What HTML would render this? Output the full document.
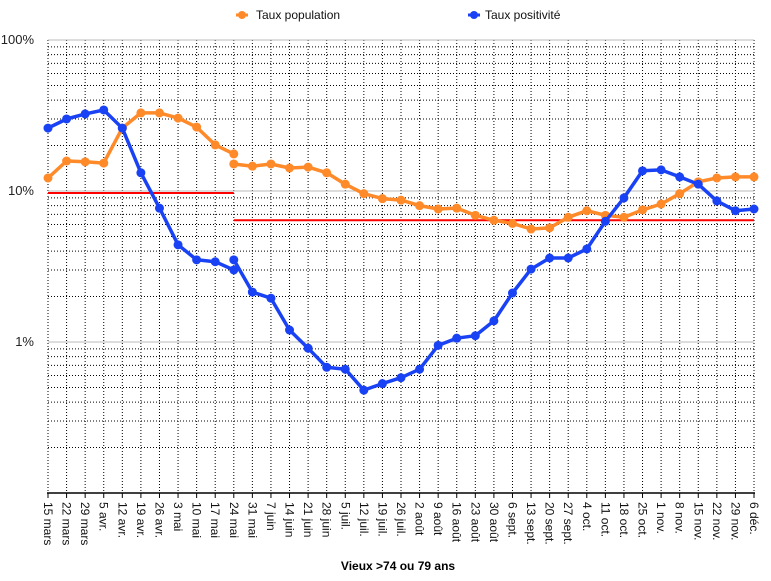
<!DOCTYPE html>
<html><head><meta charset="utf-8"><style>
body{margin:0;background:#fff;}
svg{display:block;font-family:"Liberation Sans",Arial,sans-serif;}
</style></head><body>
<svg id="chart" width="771" height="581" viewBox="0 0 771 581">
<g id="grid"></g>
<g id="axes"></g>
<g id="series"></g>
<g>
  <g>
    <line x1="236" y1="15" x2="248" y2="15" stroke="#ff8a2a" stroke-width="3"/>
    <circle cx="242" cy="15" r="4" fill="#ff8a2a"/>
    <text x="256" y="19" font-size="12" fill="#111">Taux population</text>
  </g>
  <g>
    <line x1="468" y1="15" x2="480" y2="15" stroke="#1a42f5" stroke-width="3"/>
    <circle cx="474" cy="15" r="4" fill="#1a42f5"/>
    <text x="485" y="19" font-size="12" fill="#111">Taux positivité</text>
  </g>
</g>
<text x="398" y="570" font-size="12" font-weight="bold" text-anchor="middle">Vieux &gt;74 ou 79 ans</text>
</svg>
<script>
const categories = ["15 mars","22 mars","29 mars","5 avr.","12 avr.","19 avr.","26 avr.","3 mai","10 mai","17 mai","24 mai","31 mai","7 juin","14 juin","21 juin","28 juin","5 juil.","12 juil.","19 juil.","26 juil.","2 août","9 août","16 août","23 août","30 août","6 sept.","13 sept.","20 sept.","27 sept.","4 oct.","11 oct.","18 oct.","25 oct.","1 nov.","8 nov.","15 nov.","22 nov.","29 nov.","6 déc."];
// segment 1: 15 mars .. 24 mai (indices 0..10); segment 2: 24 mai .. 6 déc (indices 10..38)
const populationSeg1 = [12.2,15.8,15.6,15.3,26.1,32.9,32.9,30.4,26.5,20.2,17.6];
const populationSeg2 = [15.1,14.6,15.1,14.2,14.4,13.2,11.1,9.6,8.9,8.7,8.0,7.6,7.7,6.9,6.4,6.1,5.6,5.7,6.7,7.4,6.9,6.7,7.5,8.2,9.6,11.5,12.2,12.4,12.4];
const positiviteSeg1 = [26.1,30.0,32.4,34.4,26.1,13.2,7.7,4.4,3.5,3.4,3.0];
const positiviteSeg2 = [3.5,2.14,1.95,1.20,0.91,0.68,0.66,0.48,0.53,0.58,0.66,0.95,1.06,1.10,1.38,2.11,3.04,3.6,3.6,4.13,6.3,9.0,13.6,13.8,12.4,11.1,8.6,7.4,7.6];
const thresholdValues = [9.7, 6.4];
const thresholdRanges = [[0,10],[10,38]];
const yTickValues = [100,10,1];
const yTickLabels = ["100%","10%","1%"];

const NS="http://www.w3.org/2000/svg";
const X0=48, X1=754, YTOP=40, YBOT=493;
const DEC=(YBOT-YTOP)/3;
function xPos(i){return X0+i*(X1-X0)/(categories.length-1);}
function yPos(v){return YTOP+(2-Math.log10(v))*DEC;}
function mk(tag,attrs,parent){const e=document.createElementNS(NS,tag);for(const k in attrs)e.setAttribute(k,attrs[k]);parent.appendChild(e);return e;}
const grid=document.getElementById('grid'), axes=document.getElementById('axes'), series=document.getElementById('series');

// minor horizontal
for(let d=-1; d<=1; d++){
  for(let m=2;m<=9;m++){
    const y=yPos(m*Math.pow(10,d));
    const l=mk('line',{x1:X0,x2:X1,y1:y,y2:y,stroke:'#000','stroke-width':1,'stroke-dasharray':'1,2'},grid);
    
    
  }
}
// vertical dotted
categories.forEach((c,i)=>{
  const x=xPos(i);
  const l=mk('line',{x1:x,x2:x,y1:YTOP,y2:YBOT,stroke:'#000','stroke-width':1,'stroke-dasharray':'1,2'},grid);
  
  
});
// major
yTickValues.forEach((v,i)=>{
  const y=yPos(v);
  const l=mk('line',{x1:X0,x2:X1,y1:y,y2:y,stroke:'#bbb','stroke-width':1},grid);
  
  
  const t=mk('text',{x:34,y:y+4,'font-size':13,'text-anchor':'end',fill:'#222'},axes);
  t.textContent=yTickLabels[i];
  
  
});
// x axis
const ax=mk('line',{x1:X0-1,x2:X1+1,y1:YBOT,y2:YBOT,stroke:'#000','stroke-width':1.5},axes);


categories.forEach((c,i)=>{
  const x=xPos(i);
  const tk=mk('line',{x1:x,x2:x,y1:YBOT,y2:YBOT+5,stroke:'#000','stroke-width':1},axes);
  
  
  const t=mk('text',{x:0,y:0,'font-size':12,fill:'#111',transform:`translate(${x-4},${YBOT+9}) rotate(90)`},axes);
  t.textContent=c;
  
  
});
// thresholds
thresholdValues.forEach((v,i)=>{
  const y=yPos(v);
  const l=mk('line',{x1:xPos(thresholdRanges[i][0]),x2:xPos(thresholdRanges[i][1]),y1:y,y2:y,stroke:'#ff0000','stroke-width':2},series);
  
  
});
function drawSeg(vals,start,color,name){
  const pts=vals.map((v,i)=>xPos(start+i).toFixed(1)+','+yPos(v).toFixed(1)).join(' ');
  const pl=mk('polyline',{points:pts,fill:'none',stroke:color,'stroke-width':3.5,'stroke-linejoin':'round'},series);
  
  
  vals.forEach((v,i)=>{
    const c=mk('circle',{cx:xPos(start+i),cy:yPos(v),r:4.5,fill:color},series);
    
    
  });
}
drawSeg(populationSeg1,0,'#ff8a2a','population');
drawSeg(populationSeg2,10,'#ff8a2a','population');
drawSeg(positiviteSeg1,0,'#1a42f5','positivite');
drawSeg(positiviteSeg2,10,'#1a42f5','positivite');
</script>
</body></html>
